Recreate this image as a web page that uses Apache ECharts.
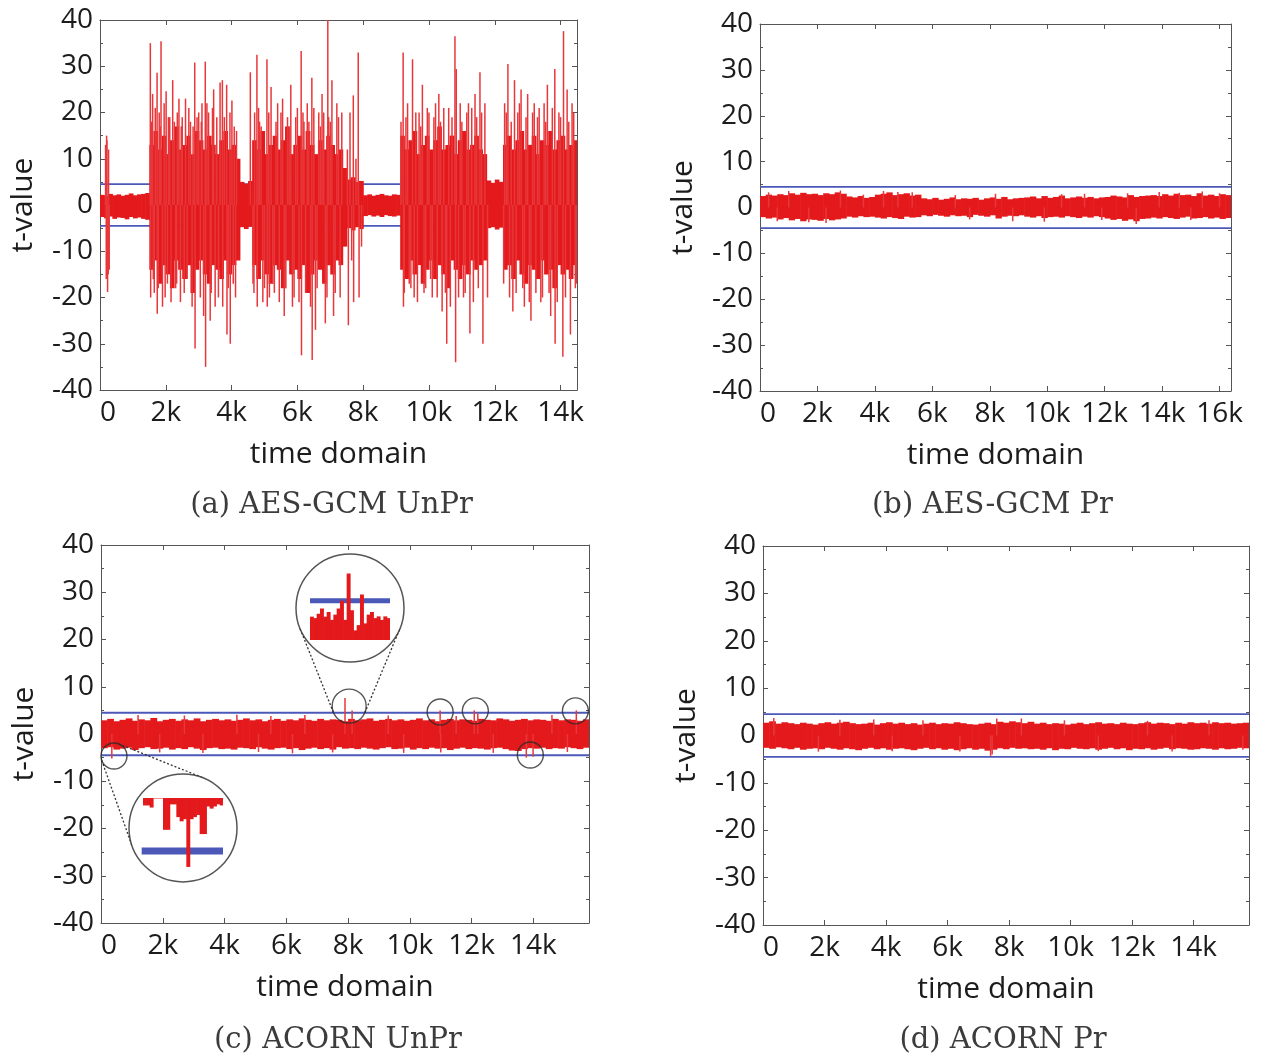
<!DOCTYPE html>
<html>
<head>
<meta charset="utf-8">
<script src="https://cdn.jsdelivr.net/npm/echarts@6/dist/echarts.min.js"></script>
<style>
  html, body { margin: 0; padding: 0; background: #fff; }
  #main { width: 1262px; height: 1057px; }
</style>
</head>
<body>
<div id="main"></div>
<script>

// (a) AES-GCM UnPr, bins of 125 samples
var binA = 125;
var xMaxA = 14500;
var hiA = [2.2, 2.0, 2.4, 2.1, 2.3, 2.0, 2.2, 2.5, 2.1, 2.3, 2.4, 2.6,
  13, 16, 12, 15, 11, 14, 17, 12, 13, 15, 11, 16, 14, 12, 15, 13, 11, 14, 16, 12, 13, 10,
  5.0, 4.6, 5.2,
  14, 12, 16, 11, 13, 15, 12, 14, 17, 11, 13, 15, 12, 16, 13, 11, 14, 12, 15, 13, 11, 12,
  8,
  5.5, 6, 5, 5.2,
  2.1, 2.3, 2.0, 2.2, 2.4, 2.1, 2.0, 2.3, 2.2,
  15, 12, 14, 16, 11, 13, 15, 12, 14, 17, 12, 13, 15, 11, 14, 16, 12, 13, 15, 12, 11,
  5.3, 4.8, 5.5, 5.0,
  13, 15, 12, 14, 16, 12, 13, 15, 11, 14, 13, 16, 12, 14, 15, 12, 13, 14];
var loA = [-2.6, -2.9, -2.5, -3.0, -2.7, -2.8, -3.1, -2.6, -2.9, -2.7, -3.0, -3.2,
  -14, -12, -17, -13, -15, -18, -12, -14, -16, -13, -19, -14, -12, -15, -17, -13, -14, -16, -12, -15, -13, -12,
  -4.8, -5.2, -4.7,
  -13, -16, -12, -15, -17, -13, -14, -18, -12, -15, -14, -16, -13, -19, -15, -12, -14, -17, -13, -15, -12, -13,
  -9,
  -5.0, -5.5, -4.8, -5.2,
  -2.4, -2.2, -2.5, -2.3, -2.6, -2.2, -2.4, -2.5, -2.3,
  -14, -16, -12, -15, -13, -17, -14, -12, -16, -13, -15, -18, -12, -14, -16, -13, -15, -12, -14, -13, -12,
  -5.0, -4.8, -5.3, -4.9,
  -14, -13, -16, -12, -15, -17, -13, -14, -16, -12, -15, -14, -18, -13, -15, -14, -16, -13];
var spikesA = [
  [170, 13], [190, -16], [200, 15], [210, 14], [230, -18.8], [250, -15], [260, 12], [280, -14],
  [1530, 35], [1540, -20], [1560, 18], [1600, 24], [1620, -16], [1650, -19], [1680, 21],
  [1735, 28.6], [1740, -23.5], [1770, -18], [1800, 20], [1830, 17], [1855, 35.4], [1900, -22],
  [1950, 22], [1980, -20], [2010, 24.6], [2050, -17], [2080, 19], [2120, 19], [2160, -21],
  [2210, 27], [2260, 18], [2300, -18], [2330, -17], [2350, 20], [2400, 23], [2445, -21],
  [2470, 17], [2500, 19], [2560, -19], [2600, 23], [2650, -16], [2700, 21], [2750, 18],
  [2800, -22], [2830, 17], [2880, 30.8], [2890, -31], [2950, 19], [3000, 20], [3050, -20],
  [3080, 18], [3100, 22], [3150, -24], [3200, 31], [3210, -35], [3250, 22], [3300, 20],
  [3350, -25], [3380, -19], [3420, 21], [3455, 25], [3500, -22], [3550, 19], [3600, -20],
  [3650, 26.5], [3720, 27], [3730, -22], [3780, 19], [3850, 26], [3860, -28], [3900, -18],
  [3950, 20], [3960, -30], [4010, 22.6], [4050, -17], [4080, 17], [4120, -20], [4150, 16],
  [4570, 28.7], [4650, -17], [4680, -19], [4700, 20], [4770, 32.5], [4780, -22], [4820, 21],
  [4850, 18], [4900, 17], [4950, -21], [5000, -18], [5075, 31.5], [5085, -22], [5130, 20],
  [5150, -20], [5200, 25.5], [5250, -17], [5300, -19], [5350, 18], [5400, 22], [5450, -21],
  [5500, 20], [5550, 23], [5600, -24], [5650, -18], [5700, 19], [5750, 17], [5800, 26],
  [5850, -22], [5900, -20], [5950, 19], [6000, 21], [6050, -21], [6115, 33.3], [6125, -32.5],
  [6170, 20], [6200, 18], [6250, -19], [6300, 22], [6350, 18], [6400, -22], [6440, 27.5],
  [6450, -33.5], [6500, 21], [6550, -27], [6600, -18], [6650, 20], [6700, 17], [6750, 24],
  [6800, 20], [6850, -25.6], [6900, -20], [6925, 40], [6950, 19], [7000, 18], [7050, 27],
  [7100, -24], [7150, -19], [7200, 22], [7250, 19], [7300, -20], [7350, 20],
  [7520, 12], [7550, -26], [7600, 20], [7650, -12], [7700, 23.7], [7710, -21], [7780, 10],
  [7850, 33], [7875, -20], [7950, -9],
  [9150, 18], [9215, 33], [9225, -22], [9250, -19], [9300, 19], [9350, 22], [9400, -17],
  [9450, -18], [9500, 31.5], [9550, -20], [9600, 20], [9650, -21], [9700, 20], [9750, 17],
  [9800, 26], [9850, -19], [9900, -18], [9950, 21], [10000, 20], [10050, -16], [10100, -20],
  [10150, 19], [10200, 22], [10250, -20], [10300, 24], [10350, 18], [10400, -23], [10450, 21],
  [10500, -19], [10540, -30], [10600, 21], [10650, -22], [10700, 19], [10790, 36.5],
  [10810, -34], [10830, 29.4], [10900, -20], [10950, 22], [11000, 18], [11050, -20],
  [11100, -19], [11150, 20], [11200, 22], [11245, -27.8], [11300, 21], [11350, -21],
  [11400, 24], [11450, 19], [11500, -18], [11550, 28.7], [11600, 20], [11640, -30],
  [11700, 22], [11780, -20],
  [12270, -17], [12300, 22], [12350, 20], [12400, 30.5], [12450, -20], [12500, 18],
  [12550, -23], [12600, 27], [12650, -19], [12700, 20], [12750, 22], [12800, 25], [12850, -18],
  [12900, -22], [12950, 19], [13000, 24], [13050, -21], [13100, -25], [13150, 20], [13200, 22],
  [13250, -19], [13300, 19], [13350, 21], [13400, -21], [13450, -20], [13500, 22], [13550, 18],
  [13600, 26], [13650, -19], [13700, -24], [13750, 21], [13825, 29.4], [13835, -30],
  [13900, -21], [13950, 20], [14000, 19], [14070, -32.8], [14090, 37.6], [14150, -20],
  [14200, 25], [14250, 18], [14300, -28], [14350, 22], [14400, 20], [14450, -18], [14480, -17]
];

// (b) AES-GCM Pr, bins of 200
var binB = 200;
var xMaxB = 16400;
var hiB = [2.5, 2.8, 2.6, 2.9, 2.7,
  3.1, 2.8, 3.2, 2.9, 3.0, 2.7, 3.1, 2.9, 3.3, 3.0,
  2.4, 2.2, 2.5, 2.1, 2.3,
  2.8, 3.0, 3.3, 2.7, 2.9, 3.1, 2.6, 2.8,
  2.0, 1.8, 2.1, 1.7, 1.9, 2.2, 1.8, 2.0, 1.9, 2.1, 1.7, 2.0, 2.2, 1.9, 2.3, 1.8, 2.0, 2.1,
  2.2, 2.4, 2.0, 2.5, 2.1, 2.3, 2.6, 2.0, 2.2, 2.4, 2.1, 2.3, 2.0, 2.2,
  2.3, 2.6, 2.4, 2.2, 2.7, 2.3, 2.5, 2.6,
  2.7, 2.5, 2.9, 2.6, 3.0, 2.7, 2.8, 2.5, 3.1, 2.6, 2.8, 2.5, 2.9, 2.7];
var loB = [-2.1, -2.4, -2.2, -2.6, -2.3,
  -2.8, -2.5, -3.0, -2.6, -2.7, -2.9, -2.5, -2.8, -2.6, -2.4,
  -2.0, -2.2, -1.9, -2.1, -2.0,
  -2.2, -2.4, -2.1, -2.3, -2.5, -2.0, -2.2, -2.1,
  -1.7, -1.9, -1.6, -1.8, -2.0, -1.7, -1.9, -1.8, -2.1, -1.6, -1.8, -2.0, -1.7, -2.4, -2.0, -1.8, -1.9, -1.7,
  -2.0, -2.2, -1.9, -2.3, -2.1, -2.0, -2.2, -1.9, -2.1, -2.3, -2.0, -2.2, -1.9, -2.1,
  -2.4, -2.7, -2.5, -2.9, -2.6, -3.0, -2.5, -2.4,
  -2.2, -2.4, -2.1, -2.3, -2.5, -2.2, -2.0, -2.4, -2.3, -2.1, -2.4, -2.2, -2.5, -2.3];
var spikesB = [[300, 3.3], [600, -3.0], [1000, 3.6], [1700, -3.2], [2300, -3.4], [2800, 3.7],
  [3600, 2.8], [4300, 3.6], [4800, 3.4], [5300, 3.3], [6800, 2.7], [7300, -2.6], [8200, 3.0],
  [8800, -3.0], [9900, -3.1], [10500, 2.9], [11300, 3.0], [11900, -2.7], [12800, 3.1],
  [13100, -3.6], [13900, 3.4], [14600, 3.2], [15000, -2.7], [15400, 3.5], [16000, 3.1]];

// (c) ACORN UnPr, bins of 200
var binC = 200;
var xMaxC = 15800;
var hiC = [2.9, 3.2, 2.7, 3.0, 3.3, 2.8, 3.1, 2.9, 3.4, 2.7,
  3.0, 3.2, 2.8, 3.1, 2.9, 3.3, 2.7, 3.0, 3.2, 2.9,
  3.1, 2.8, 3.0, 3.3, 2.9, 3.1, 2.7, 3.0, 3.2, 2.8,
  3.1, 2.9, 3.3, 3.0, 2.8, 3.2, 2.9, 3.1, 3.0, 2.7,
  3.2, 2.9, 3.1, 3.3, 2.8, 3.0, 3.2, 2.9, 3.1, 2.8,
  3.0, 3.3, 2.9, 3.1, 2.7, 3.0, 3.2, 2.9, 3.1, 3.0,
  2.8, 3.2, 3.0, 2.9, 3.3, 3.1, 2.8, 3.0, 3.2, 2.9,
  3.1, 3.0, 2.8, 3.2, 2.9, 3.1, 3.0, 2.8, 3.1];
var loC = [-3.0, -2.8, -3.3, -3.1, -2.9, -3.4, -3.0, -2.8, -3.2, -3.1,
  -2.9, -3.3, -3.0, -3.2, -2.8, -3.1, -3.4, -3.0, -2.9, -3.2,
  -3.1, -3.3, -2.9, -3.0, -3.2, -2.8, -3.1, -3.3, -3.0, -2.9,
  -3.2, -3.0, -3.4, -3.1, -2.9, -3.2, -3.0, -3.3, -2.8, -3.1,
  -3.0, -3.2, -2.9, -3.1, -3.3, -3.0, -2.8, -3.2, -3.1, -2.9,
  -3.3, -3.0, -3.2, -2.9, -3.1, -3.0, -3.4, -3.1, -2.9, -3.2,
  -3.0, -3.1, -3.3, -3.0, -2.9, -3.2, -3.5, -3.6, -3.2, -3.0,
  -3.1, -2.9, -3.2, -3.0, -3.1, -2.8, -3.0, -3.2, -2.9];
var spikesC = [[350, -5.2], [7900, 7.6], [8130, 5.0], [10980, 5.0], [12085, 5.0], [12200, 4.4],
  [13770, -5.0], [13990, -4.8], [15390, 5.0],
  [1200, 4.0], [2700, 3.9], [4400, 4.1], [5500, 3.8], [6600, 4.0], [9300, 3.9], [11500, 3.8],
  [14600, 4.0], [1900, -3.9], [3300, -4.0], [5100, -3.8], [6200, -4.1], [7500, -3.9],
  [9800, -4.0], [11000, -3.9], [12700, -4.0], [15100, -3.8]];
// circled leaks in (c)
var leaksC = [[420, -4.65], [8035, 5.9], [10980, 4.65], [12120, 4.9], [13900, -4.45], [15360, 4.9]];

// (d) ACORN Pr, bins of 200
var binD = 200;
var xMaxD = 15800;
var hiD = [2.7, 3.0, 2.5, 2.8, 2.6, 2.4, 2.7, 2.5, 2.3, 2.6,
  2.8, 2.5, 2.7, 2.9, 2.6, 2.4, 2.5, 2.7, 2.3, 2.6,
  2.8, 2.5, 2.7, 2.4, 2.6, 2.3, 2.5, 2.7, 2.4, 2.6,
  2.5, 2.8, 2.6, 2.4, 2.3, 2.5, 2.7, 2.4, 2.9, 2.7,
  3.0, 2.8, 2.6, 2.9, 2.5, 2.7, 2.4, 2.6, 2.5, 2.3,
  2.5, 2.7, 2.4, 2.6, 2.8, 2.5, 2.6, 2.4, 2.7, 2.5,
  2.4, 2.6, 2.8, 2.5, 2.7, 2.6, 2.4, 2.7, 2.5, 2.8,
  2.6, 2.7, 2.5, 2.8, 2.6, 2.7, 2.5, 2.6, 2.7];
var loD = [-2.6, -2.8, -2.5, -2.7, -2.9, -2.6, -3.0, -2.8, -2.7, -2.9,
  -2.6, -2.8, -3.0, -2.7, -2.9, -3.1, -2.8, -2.6, -2.9, -2.7,
  -3.0, -2.8, -2.7, -2.9, -3.1, -2.8, -2.6, -2.9, -2.7, -3.0,
  -2.8, -3.1, -2.9, -2.7, -3.0, -2.8, -3.2, -3.0, -2.7, -2.9,
  -2.6, -2.8, -2.7, -2.9, -2.8, -3.0, -2.7, -3.1, -2.8, -2.9,
  -2.6, -2.8, -2.9, -2.7, -3.0, -2.8, -2.6, -2.9, -2.7, -3.1,
  -2.8, -2.9, -2.7, -3.0, -2.8, -2.6, -2.9, -2.7, -2.8, -3.0,
  -2.9, -2.7, -2.8, -3.0, -2.7, -2.9, -2.8, -2.6, -2.7];
var spikesD = [[350, 3.7], [1800, -3.4], [2500, 3.3], [3600, 3.4], [4200, -3.3], [5200, 3.2],
  [6400, -3.4], [7400, -4.3], [7450, -4.0], [7600, 3.6], [8400, 3.6], [9800, 3.2],
  [10900, -3.3], [12500, 3.1], [13300, -3.4], [14500, 3.2], [15600, -3.0]];

// magnified views inside the two big circles
var zoomTop = [2.67, 2.5, 3.0, 3.6, 2.67, 3.2, 2.3, 2.9, 3.6, 4.5, 2.3, 7.6,
  3.4, 1.1, 1.7, 5.2, 1.9, 2.9, 3.2, 2.5, 2.7, 2.3, 2.7, 2.5];
var zoomBottom = [-2.35, -2.35, -2.45, -2.02, -2.02, -2.02, -3.5, -3.5, -2.3, -2.3, -2.9, -3.1,
  -3.0, -5.25, -3.0, -2.9, -2.8, -3.7, -3.7, -2.4, -2.5, -2.4, -2.3, -2.35];

var threshold = 4.5;
var captions = ['(a) AES-GCM UnPr', '(b) AES-GCM Pr', '(c) ACORN UnPr', '(d) ACORN Pr'];

// ---- chart ----
var RED = '#e3191c';
var BLUE = '#4b58b8';
var AXIS = '#555';
var TXT = '#1c1c1c';
var FONT = 'Open Sans';

function kfmt(v) { return v === 0 ? '0' : (v / 1000) + 'k'; }

function toBins(hi, lo, w) {
  return hi.map(function (h, i) { return [i * w, (i + 1) * w, lo[i], h]; });
}

function bandItem(params, api) {
  var a = api.coord([api.value(0), api.value(3)]);
  var b = api.coord([api.value(1), api.value(2)]);
  var cs = params.coordSys;
  var shape = echarts.graphic.clipRectByRect(
    { x: a[0], y: a[1], width: b[0] - a[0] + 0.6, height: b[1] - a[1] },
    { x: cs.x, y: cs.y, width: cs.width, height: cs.height });
  return shape && { type: 'rect', shape: shape, style: { fill: RED } };
}

function spikeItem(params, api) {
  var a = api.coord([api.value(0), 0]);
  var b = api.coord([api.value(0), api.value(1)]);
  return { type: 'line', shape: { x1: a[0], y1: a[1], x2: b[0], y2: b[1] },
    style: { stroke: '#e8373a', lineWidth: 1.5 } };
}

var panels = [
  { grid: { left: 100, top: 20, width: 477, height: 370 }, xmax: xMaxA, bins: toBins(hiA, loA, binA), spikes: spikesA },
  { grid: { left: 760, top: 24, width: 471, height: 367 }, xmax: xMaxB, bins: toBins(hiB, loB, binB), spikes: spikesB },
  { grid: { left: 101, top: 545, width: 488, height: 378 }, xmax: xMaxC, bins: toBins(hiC, loC, binC), spikes: spikesC },
  { grid: { left: 763, top: 546, width: 486, height: 379 }, xmax: xMaxD, bins: toBins(hiD, loD, binD), spikes: spikesD }
];

var grids = [], xAxes = [], yAxes = [], series = [];

panels.forEach(function (p, i) {
  grids.push(p.grid);
  var line = { show: true, onZero: false, lineStyle: { color: AXIS, width: 1 } };
  var tick = { show: true, inside: true, length: 5, lineStyle: { color: AXIS } };
  xAxes.push({
    gridIndex: i, type: 'value', min: 0, max: p.xmax, interval: 2000, position: 'bottom',
    axisLine: line, axisTick: tick, splitLine: { show: false },
    axisLabel: { margin: 9, fontSize: 28, fontFamily: FONT, color: TXT, showMaxLabel: false,
      alignMinLabel: 'left', formatter: kfmt },
    name: 'time domain', nameLocation: 'middle', nameGap: 49,
    nameTextStyle: { fontSize: 30, fontFamily: FONT, color: TXT }
  });
  xAxes.push({
    gridIndex: i, type: 'value', min: 0, max: p.xmax, interval: 2000, position: 'top',
    axisLine: line, axisTick: tick, axisLabel: { show: false }, splitLine: { show: false }
  });
  yAxes.push({
    gridIndex: i, type: 'value', min: -40, max: 40, interval: 10, position: 'left',
    axisLine: line, axisTick: tick, splitLine: { show: false },
    minorTick: { show: true, splitNumber: 2, length: 3, lineStyle: { color: AXIS } },
    axisLabel: { margin: 7, fontSize: 28, fontFamily: FONT, color: TXT },
    name: 't-value', nameLocation: 'middle', nameGap: 62,
    nameTextStyle: { fontSize: 30, fontFamily: FONT, color: TXT }
  });
  yAxes.push({
    gridIndex: i, type: 'value', min: -40, max: 40, interval: 10, position: 'right',
    axisLine: line, axisTick: tick, splitLine: { show: false },
    minorTick: { show: true, splitNumber: 2, length: 3, lineStyle: { color: AXIS } },
    axisLabel: { show: false }
  });
  var xi = 2 * i, yi = 2 * i;
  [threshold, -threshold].forEach(function (t) {
    series.push({
      type: 'line', xAxisIndex: xi, yAxisIndex: yi, data: [[0, t], [p.xmax, t]],
      symbol: 'none', lineStyle: { color: BLUE, width: 1.8 }, silent: true, z: 1
    });
  });
  series.push({
    type: 'custom', xAxisIndex: xi, yAxisIndex: yi, data: p.bins,
    encode: { x: [0, 1], y: [2, 3] }, renderItem: bandItem, silent: true, z: 2
  });
  series.push({
    type: 'custom', xAxisIndex: xi, yAxisIndex: yi, data: p.spikes,
    encode: { x: 0, y: 1 }, renderItem: spikeItem, silent: true, z: 3
  });
});

// inset grids (magnified views)
grids.push({ left: 310, top: 570, width: 80, height: 70 });
grids.push({ left: 143, top: 798, width: 80, height: 70 });
xAxes.push({ gridIndex: 4, type: 'value', min: 0, max: zoomTop.length, show: false });
xAxes.push({ gridIndex: 5, type: 'value', min: 0, max: zoomBottom.length, show: false });
yAxes.push({ gridIndex: 4, type: 'value', min: 0, max: 8, show: false });
yAxes.push({ gridIndex: 5, type: 'value', min: -5.3, max: -2, show: false });

// big circles behind the insets
series.push({
  type: 'scatter', xAxisIndex: 8, yAxisIndex: 8, data: [[12, 3.66]], symbolSize: 108,
  itemStyle: { color: '#fff', borderColor: '#2b2b2b', borderWidth: 1.5 }, silent: true, clip: false, z: 4
});
series.push({
  type: 'scatter', xAxisIndex: 9, yAxisIndex: 9, data: [[12, -3.41]], symbolSize: 108,
  itemStyle: { color: '#fff', borderColor: '#2b2b2b', borderWidth: 1.5 }, silent: true, clip: false, z: 4
});
series.push({
  type: 'line', xAxisIndex: 8, yAxisIndex: 8, data: [[0, threshold], [zoomTop.length, threshold]],
  symbol: 'none', lineStyle: { color: BLUE, width: 5 }, silent: true, z: 5
});
series.push({
  type: 'line', xAxisIndex: 9, yAxisIndex: 9, data: [[-0.4, -threshold], [zoomBottom.length, -threshold]],
  symbol: 'none', lineStyle: { color: BLUE, width: 7 }, silent: true, clip: false, z: 5
});
series.push({
  type: 'custom', xAxisIndex: 8, yAxisIndex: 8,
  data: zoomTop.map(function (v, i) { return [i, i + 1, 0, v]; }),
  encode: { x: [0, 1], y: [2, 3] }, renderItem: bandItem, silent: true, z: 6
});
series.push({
  type: 'custom', xAxisIndex: 9, yAxisIndex: 9,
  data: zoomBottom.map(function (v, i) { return [i, i + 1, v, -2]; }),
  encode: { x: [0, 1], y: [2, 3] }, renderItem: bandItem, silent: true, z: 6
});

// small circles around the leaking points of (c)
series.push({
  type: 'scatter', xAxisIndex: 4, yAxisIndex: 4, data: leaksC,
  symbolSize: function (v, params) { return params.dataIndex === 1 ? 34 : 26; },
  itemStyle: { color: 'rgba(0,0,0,0)', borderColor: '#2b2b2b', borderWidth: 1.4 },
  silent: true, clip: false, z: 7
});

var chart = echarts.init(document.getElementById('main'), null, { renderer: 'canvas' });
chart.setOption({
  animation: false,
  backgroundColor: '#fff',
  grid: grids,
  xAxis: xAxes,
  yAxis: yAxes,
  series: series
});

// captions and dotted connectors (positions taken from the axes)
function tangents(c1, r1, c2, r2) {
  var dx = c2[0] - c1[0], dy = c2[1] - c1[1], d = Math.hypot(dx, dy);
  var ux = dx / d, uy = dy / d;
  var cs = (r1 - r2) / d, sn = Math.sqrt(1 - cs * cs);
  return [1, -1].map(function (s) {
    var nx = ux * cs - s * uy * sn, ny = uy * cs + s * ux * sn;
    return [c1[0] + r1 * nx, c1[1] + r1 * ny, c2[0] + r2 * nx, c2[1] + r2 * ny];
  });
}

var graphics = [];
var links = [
  { small: chart.convertToPixel({ gridIndex: 2 }, leaksC[1]), rs: 17,
    big: chart.convertToPixel({ gridIndex: 4 }, [12, 3.66]), rb: 54 },
  { small: chart.convertToPixel({ gridIndex: 2 }, leaksC[0]), rs: 13,
    big: chart.convertToPixel({ gridIndex: 5 }, [12, -3.41]), rb: 54 }
];
links.forEach(function (l) {
  tangents(l.small, l.rs, l.big, l.rb).forEach(function (t) {
    graphics.push({
      type: 'line', z: 3, silent: true,
      shape: { x1: t[0], y1: t[1], x2: t[2], y2: t[3] },
      style: { stroke: '#333', lineWidth: 1.3, lineDash: [2, 2] }
    });
  });
});

captions.forEach(function (c, i) {
  var g = panels[i].grid;
  graphics.push({
    type: 'text', silent: true,
    x: g.left + g.width / 2 + (i % 2 === 0 ? -7 : -3),
    y: i < 2 ? 505 : 1040,
    style: { text: c, font: '29px "DejaVu Serif"', fill: '#3c3c3c', align: 'center', verticalAlign: 'middle' }
  });
});

chart.setOption({ graphic: graphics });
</script>
</body>
</html>
